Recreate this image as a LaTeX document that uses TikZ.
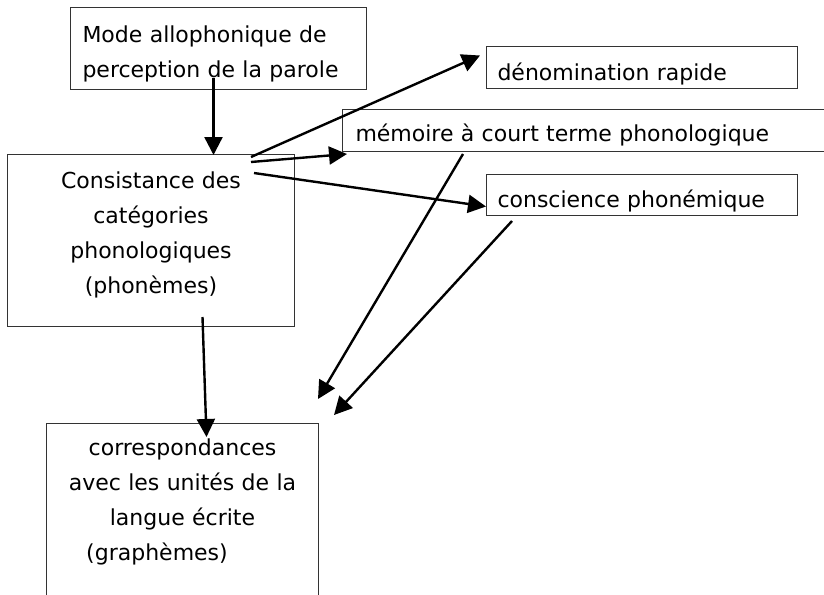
\documentclass[tikz,border=0pt]{standalone}
\usepackage{fontspec}
\setmainfont{DejaVu Sans}
\usetikzlibrary{arrows.meta}

\begin{document}
\begin{tikzpicture}
[   x=1pt,y=-1pt,
    box/.style={draw=black!80,line width=1pt,anchor=north west,inner ysep=0pt,font=\fontsize{22}{35}\selectfont},
    arr/.style={line width=2.4pt,-{Triangle[length=18pt,width=18pt]}},
]
    \useasboundingbox (0,0) rectangle (824,594);
    \clip (0,0) rectangle (824,594);
    \node[box,inner xsep=12pt,text width=272pt,align=left,text height=35pt,text depth=47pt] (allo) at (70,7)
        {Mode allophonique de\\perception de la parole};
    \node[box,inner xsep=5pt,text width=277pt,align=center,text height=34pt,text depth=138pt] (cons) at (7,154)
        {Consistance des\\catégories\\phonologiques\\(phonèmes)};
    \node[box,inner xsep=11pt,text width=289pt,align=left,text height=34pt,text depth=8pt] (den) at (486,46)
        {dénomination rapide};
    \node[box,inner xsep=13pt,text width=520pt,align=left,text height=32pt,text depth=10pt] (mem) at (342,109)
        {mémoire à court terme phonologique};
    \node[box,inner xsep=11pt,text width=289pt,align=left,text height=33pt,text depth=8pt] (consc) at (486,174)
        {conscience phonémique};
    \node[box,inner xsep=5pt,text width=262pt,align=center,text height=32pt,text depth=250pt] (corr) at (46,423)
        {correspondances\\avec les unités de la\\langue écrite\\(graphèmes)\hspace*{51pt}\null};
    \coordinate (gr-1) at ([shift={(-1,-24)}]corr.north east);
    \coordinate (gr-2) at ([shift={(15,-8)}]corr.north east);
    % fleches
    \draw[arr] ([shift={(-5,-12)}]allo.south) -- ([shift={(62.5,1)}]cons.north);
    \draw[arr] ([shift={(-44,3)}]cons.north east) -- ([shift={(-6,-12)}]den.west);
    \draw[arr] ([shift={(-44,8)}]cons.north east) -- ([shift={(5,2)}]mem.south west);
    \draw[arr] ([shift={(-41,19)}]cons.north east) -- ([shift={(0,11.5)}]consc.west);
    \draw[arr] ([shift={(121,2)}]mem.south west) -- (gr-1);
    \draw[arr] ([shift={(26,5)}]consc.south west) -- (gr-2);
    \draw[arr] ([shift={(51.5,-10)}]cons.south) -- ([shift={(24,14)}]corr.north);
\end{tikzpicture}
\end{document}
